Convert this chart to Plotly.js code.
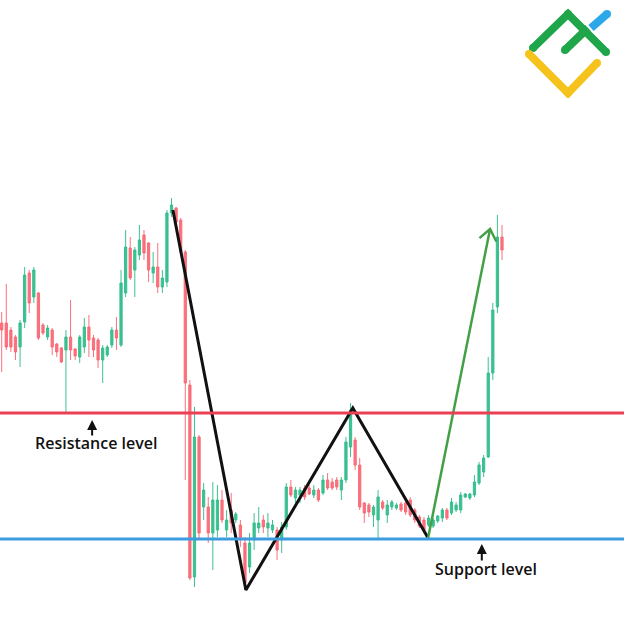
<!DOCTYPE html>
<html>
<head>
<meta charset="utf-8">
<script src="https://cdn.plot.ly/plotly-3.0.1.min.js"></script>
<style>html,body{margin:0;padding:0;background:#fff;}#chart{width:624px;height:628px;}</style>
</head>
<body>
<div id="chart"></div>
<script>
// Candle prices (arbitrary price units)
const openP  = [305,305,298,291,281,306,355,331,335,303,291,298,284,280,278,291,279,271,281,301,290,288,268,273,283,298,283,335,380,358,373,393,385,355,361,341,346,415,420,408,376,243,51,191,121,121,95,98,128,98,118,108,103,85,61,88,100,108,100,98,98,88,101,141,130,133,140,140,133,138,135,148,146,148,138,148,181,188,163,125,123,113,108,126,113,121,120,124,125,128,118,111,108,103,102,107,110,118,115,118,118,131,130,133,145,156,171,255,321,391];
const closeP = [298,281,281,276,305,353,325,358,290,295,300,281,276,266,291,278,272,291,301,288,278,268,280,281,298,290,345,381,350,378,388,375,358,361,341,350,415,423,406,376,245,50,191,95,138,95,128,128,108,108,105,114,88,45,85,105,105,101,105,103,78,101,141,133,138,138,131,134,138,128,148,140,140,141,148,186,218,163,121,115,116,121,131,120,123,126,123,118,116,113,108,102,98,110,108,112,118,110,126,123,133,134,134,146,163,170,255,318,391,378];
const highP  = [316,344,301,293,308,361,358,361,336,305,303,300,285,281,298,328,280,293,310,313,293,290,283,283,301,311,358,398,391,381,403,398,386,376,385,358,418,430,421,410,378,248,221,193,145,131,146,143,138,118,135,116,108,91,95,115,121,113,115,108,101,106,145,148,141,141,143,143,143,140,153,155,150,151,151,191,225,191,170,126,125,123,138,128,128,128,125,126,128,131,120,113,111,113,110,113,120,120,130,126,136,135,135,153,166,173,271,325,413,403];
const lowP   = [256,278,276,268,261,300,315,325,288,293,288,273,271,265,215,268,268,265,275,271,271,260,245,271,280,278,281,331,348,331,368,368,346,345,335,335,341,411,405,375,148,48,41,88,108,85,58,91,105,91,95,105,81,38,55,78,95,95,91,95,68,75,98,131,125,125,128,133,130,126,133,138,138,138,128,145,171,158,118,105,111,101,88,118,105,118,118,116,113,111,105,100,95,101,100,105,106,108,113,116,115,130,128,131,143,151,170,248,315,368];
const idx = openP.map((_, i) => i);

// Levels and pattern
const resistance = 215;
const support = 89;
const zigX = [37.3, 53.2, 76.5, 92.9];
const zigY = [418, 38, 220, 90];
const arrowX = [92.9, 106.4];
const arrowY = [90, 399];

const labels = ["Resistance level", "Support level"];

const X_RANGE = [-0.37, 135.58];
const Y_RANGE = [0, 628];
const W = 624, H = 628;
const toPx = (x, y) => [(x - X_RANGE[0]) / (X_RANGE[1] - X_RANGE[0]) * W, H - (y - Y_RANGE[0]) / (Y_RANGE[1] - Y_RANGE[0]) * H];
const fromPx = (px, py) => [X_RANGE[0] + px / W * (X_RANGE[1] - X_RANGE[0]), Y_RANGE[0] + (H - py) / H * (Y_RANGE[1] - Y_RANGE[0])];

// chevron head for green arrow
const tip = toPx(arrowX[1], arrowY[1]);
const base = toPx(arrowX[0], arrowY[0]);
let dx = base[0] - tip[0], dy = base[1] - tip[1];
const len = Math.hypot(dx, dy); dx /= len; dy /= len;
const headLen = 14, ang = 38 * Math.PI / 180;
function rot(vx, vy, a) { return [vx * Math.cos(a) - vy * Math.sin(a), vx * Math.sin(a) + vy * Math.cos(a)]; }
const a1 = rot(dx, dy, ang), a2 = rot(dx, dy, -ang);
const p1 = fromPx(tip[0] + a1[0] * headLen, tip[1] + a1[1] * headLen);
const p2 = fromPx(tip[0] + a2[0] * headLen, tip[1] + a2[1] * headLen);

const GREEN = 'rgba(52,190,140,0.95)';
const RED = 'rgba(250,105,118,0.95)';

const traces = [
  {
    type: 'candlestick', x: idx, open: openP, close: closeP, high: highP, low: lowP,
    increasing: { line: { color: GREEN, width: 1 }, fillcolor: GREEN },
    decreasing: { line: { color: RED, width: 1 }, fillcolor: RED },
    whiskerwidth: 0, showlegend: false, hoverinfo: 'skip'
  },
  { type: 'scatter', mode: 'lines', x: zigX, y: zigY, line: { color: '#111', width: 3 }, showlegend: false, hoverinfo: 'skip' },
  { type: 'scatter', mode: 'lines', x: arrowX, y: arrowY, line: { color: '#43a047', width: 2.5 }, showlegend: false, hoverinfo: 'skip' },
  { type: 'scatter', mode: 'lines', x: [p1[0], arrowX[1], p2[0]], y: [p1[1], arrowY[1], p2[1]], line: { color: '#43a047', width: 2.5 }, showlegend: false, hoverinfo: 'skip' }
];

// logo (decoration, pixel coords -> paper)
const P = (px, py) => [px / W, 1 - py / H];
function seg(pts, color, w) {
  let d = '';
  pts.forEach((p, i) => { const q = P(p[0], p[1]); d += (i ? ' L ' : 'M ') + q[0] + ',' + q[1]; });
  return { type: 'path', xref: 'paper', yref: 'paper', path: d, line: { color: color, width: w }, layer: 'above' };
}
function dot(p, color, r) {
  const a = P(p[0] - r, p[1] + r), b = P(p[0] + r, p[1] - r);
  return { type: 'circle', xref: 'paper', yref: 'paper', x0: a[0], y0: a[1], x1: b[0], y1: b[1], fillcolor: color, line: { width: 0 }, layer: 'above' };
}
const LG = '#1fa64a', LB = '#2aa8e8', LY = '#f6c31c';
const logoShapes = [
  seg([[591, 28], [607, 14]], LB, 8), dot([607, 14], LB, 4),
  seg([[533, 48], [568, 14], [606, 52]], LG, 8), dot([533, 48], LG, 4), dot([568, 14], LG, 4), dot([606, 52], LG, 4),
  seg([[565, 50], [588, 28]], LG, 8), dot([565, 50], LG, 4),
  seg([[529, 54], [568, 93], [597, 63]], LY, 8), dot([529, 54], LY, 4), dot([568, 93], LY, 4), dot([597, 63], LY, 4)
];

const shapes = [
  { type: 'line', xref: 'paper', x0: 0, x1: 1, yref: 'y', y0: resistance, y1: resistance, line: { color: '#ea3f55', width: 3 } },
  { type: 'line', xref: 'paper', x0: 0, x1: 1, yref: 'y', y0: support, y1: support, line: { color: '#3d9be0', width: 3 } }
].concat(logoShapes);

const labFont = { family: 'Open Sans, sans-serif', size: 16, color: '#111', weight: 600 };
const annotations = [
  { x: 20.5, y: 185, xref: 'x', yref: 'y', text: labels[0], showarrow: false, font: labFont },
  { x: 19.7, y: 208, xref: 'x', yref: 'y', text: '', showarrow: true, ax: 0, ay: 17, arrowhead: 2, arrowsize: 1, arrowwidth: 2, arrowcolor: '#111' },
  { x: 105.5, y: 59, xref: 'x', yref: 'y', text: labels[1], showarrow: false, font: labFont },
  { x: 104.6, y: 84, xref: 'x', yref: 'y', text: '', showarrow: true, ax: 0, ay: 18, arrowhead: 2, arrowsize: 1, arrowwidth: 2, arrowcolor: '#111' }
];

const layout = {
  width: W, height: H,
  margin: { l: 0, r: 0, t: 0, b: 0, pad: 0 },
  paper_bgcolor: '#fff', plot_bgcolor: '#fff',
  xaxis: { range: X_RANGE, visible: false, showgrid: false, zeroline: false, rangeslider: { visible: false }, fixedrange: true },
  yaxis: { range: Y_RANGE, visible: false, showgrid: false, zeroline: false, fixedrange: true },
  shapes: shapes, annotations: annotations, showlegend: false
};
Plotly.newPlot('chart', traces, layout, { displayModeBar: false, staticPlot: true });
</script>
</body>
</html>
